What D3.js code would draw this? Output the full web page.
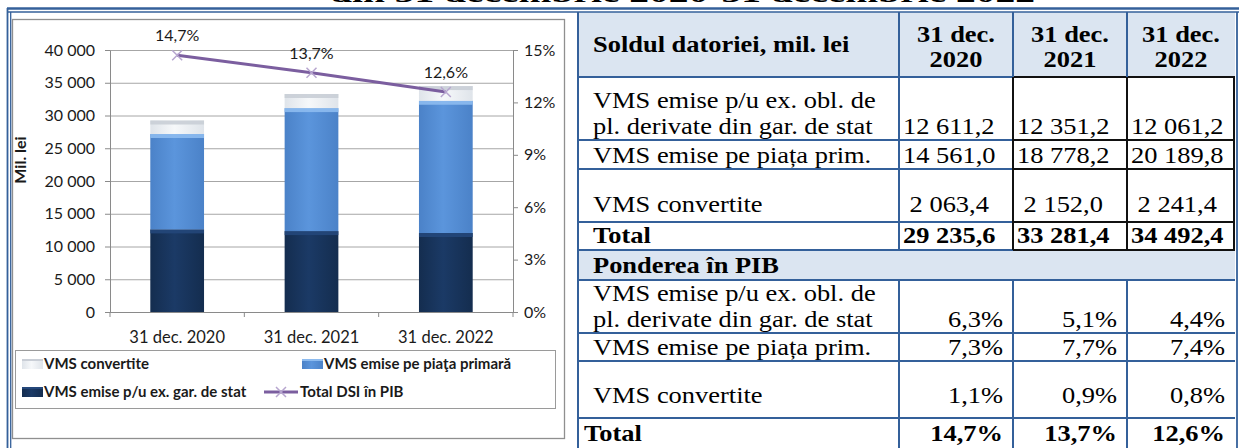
<!DOCTYPE html>
<html>
<head>
<meta charset="utf-8">
<script src="https://cdn.jsdelivr.net/npm/d3@7"></script>
<style>
  body { margin: 0; background: #fff; }
  svg { display: block; }
</style>
</head>
<body>
<svg width="1239" height="448"></svg>
<script>
// ---- data ----
var categories = ["31 dec. 2020", "31 dec. 2021", "31 dec. 2022"];
var garStat = [12611.2, 12351.2, 12061.2];       // VMS emise p/u ex. gar. de stat
var piataPrimara = [14561.0, 18778.2, 20189.8];  // VMS emise pe piata primara
var convertite = [2063.4, 2152.0, 2241.4];       // VMS convertite
var totalPib = [14.7, 13.7, 12.6];               // Total DSI in PIB, %
var leftTicks = [0, 5000, 10000, 15000, 20000, 25000, 30000, 35000, 40000];
var rightTicks = [0, 3, 6, 9, 12, 15];
var seriesNames = ["VMS emise p/u ex. gar. de stat", "VMS emise pe piaţa primară", "VMS convertite", "Total DSI în PIB"];

var titleText = "din 31 decembrie 2020-31 decembrie 2022";
var headLabel = "Soldul datoriei, mil. lei";
var headYears = [["31 dec.", "2020"], ["31 dec.", "2021"], ["31 dec.", "2022"]];
var rowLabels = [["VMS emise p/u ex. obl. de", "pl. derivate din gar. de stat"], ["VMS emise pe piața prim."], ["VMS convertite"], ["Total"]];
var soldValues = [["12 611,2", "12 351,2", "12 061,2"], ["14 561,0", "18 778,2", "20 189,8"], [" 2 063,4", " 2 152,0", " 2 241,4"], ["29 235,6", "33 281,4", "34 492,4"]];
var pibLabel = "Ponderea în PIB";
var pibValues = [["6,3%", "5,1%", "4,4%"], ["7,3%", "7,7%", "7,4%"], ["1,1%", "0,9%", "0,8%"], ["14,7%", "13,7%", "12,6%"]];

var svg = d3.select("svg");
var blue = "#34609a", black = "#111";
var serif = "'Liberation Serif', 'Times New Roman', serif";
var sans = "Lato, 'Open Sans', sans-serif";

var loc = d3.formatLocale({decimal: ",", thousands: " ", grouping: [3], currency: ["", ""]});
var fmtK = loc.format(",d"), fmtP = loc.format(".1f");

// ---- title, cut at the top ----
svg.append("text")
    .attr("x", 330).attr("y", 2)
    .attr("font-family", serif).attr("font-weight", "bold").attr("font-size", 26)
    .attr("textLength", 705).attr("lengthAdjust", "spacingAndGlyphs")
    .text(titleText);

// ---- chart ----
var chart = svg.append("g");
chart.append("rect").attr("x", 12.5).attr("y", 19.5).attr("width", 552).attr("height", 419)
    .attr("fill", "#fff").attr("stroke", "#8f8f8f").attr("stroke-width", 1.3);

var x = d3.scaleBand().domain(categories).range([110, 513]).paddingInner(0.6).paddingOuter(0.3);
var y = d3.scaleLinear().domain([0, 40000]).range([312, 50]);
var y2 = d3.scaleLinear().domain([0, 15]).range([312, 50]);

var defs = svg.append("defs");
function grad(id, edge, mid) {
  var g = defs.append("linearGradient").attr("id", id).attr("x1", 0).attr("x2", 1).attr("y1", 0).attr("y2", 0);
  g.append("stop").attr("offset", "0%").attr("stop-color", edge);
  g.append("stop").attr("offset", "45%").attr("stop-color", mid);
  g.append("stop").attr("offset", "100%").attr("stop-color", edge);
}
grad("gDark", "#142d4f", "#1b3a66");
grad("gMid", "#4b82c8", "#5b95dc");
grad("gLight", "#dfe4ea", "#f6f8fa");

// gridlines
chart.append("g").attr("transform", "translate(110,0)")
    .call(d3.axisLeft(y).tickValues(leftTicks).tickSize(-403).tickFormat(""))
    .call(function(g) { g.select(".domain").remove(); g.selectAll("line").attr("stroke", "#a6a6a6"); });

var data = categories.map(function(c, i) {
  return {cat: c, gar: garStat[i], prim: piataPrimara[i], conv: convertite[i]};
});
var stack = d3.stack().keys(["gar", "prim", "conv"])(data);
var fills = {gar: "url(#gDark)", prim: "url(#gMid)", conv: "url(#gLight)"};
var tops = {gar: "#24477a", prim: "#8dbbef", conv: "#c9ced6"};

stack.forEach(function(s) {
  var grp = chart.append("g");
  grp.selectAll("rect.seg").data(s).enter().append("rect")
      .attr("x", function(d) { return x(d.data.cat); })
      .attr("y", function(d) { return y(d[1]); })
      .attr("width", x.bandwidth())
      .attr("height", function(d) { return y(d[0]) - y(d[1]); })
      .attr("fill", fills[s.key]);
  grp.selectAll("rect.top").data(s).enter().append("rect")
      .attr("x", function(d) { return x(d.data.cat); })
      .attr("y", function(d) { return y(d[1]); })
      .attr("width", x.bandwidth())
      .attr("height", 4)
      .attr("fill", tops[s.key]).attr("opacity", 0.9);
});

// axes
var axL = chart.append("g").attr("transform", "translate(110,0)")
    .call(d3.axisLeft(y).tickValues(leftTicks).tickSize(5).tickSizeOuter(0).tickPadding(10).tickFormat(fmtK));
var axR = chart.append("g").attr("transform", "translate(513,0)")
    .call(d3.axisRight(y2).tickValues(rightTicks).tickSize(5).tickSizeOuter(0).tickPadding(6)
      .tickFormat(function(d) { return d + "%"; }));
var axB = chart.append("g").attr("transform", "translate(0,312)")
    .call(d3.axisBottom(x).tickSize(0).tickSizeOuter(0).tickPadding(19));
[axL, axR, axB].forEach(function(a) {
  a.select(".domain").attr("stroke", "#8a8a8a");
  a.selectAll("line").attr("stroke", "#8a8a8a");
  a.selectAll("text").attr("font-family", sans).attr("font-size", 16).attr("fill", "#1a1a1a");
});
axB.selectAll("text").attr("font-size", 16.5);
// category boundary ticks
chart.append("g").selectAll("line").data(d3.range(categories.length + 1)).enter().append("line")
    .attr("x1", function(i) { return x.range()[0] + i * x.step(); })
    .attr("x2", function(i) { return x.range()[0] + i * x.step(); })
    .attr("y1", 312).attr("y2", 317).attr("stroke", "#8a8a8a");

chart.append("text")
    .attr("transform", "translate(26,160) rotate(-90)")
    .attr("text-anchor", "middle")
    .attr("font-family", sans).attr("font-weight", "bold").attr("font-size", 16).attr("fill", "#1a1a1a")
    .text("Mil. lei");

// line
var cx = function(d, i) { return x(categories[i]) + x.bandwidth() / 2; };
chart.append("path").datum(totalPib)
    .attr("d", d3.line().x(cx).y(function(d) { return y2(d); }))
    .attr("fill", "none").attr("stroke", "#7b5e9f").attr("stroke-width", 3);
chart.selectAll("path.mk").data(totalPib).enter().append("path")
    .attr("d", function(d, i) {
      var px = cx(d, i), py = y2(d), r = 5;
      return "M" + (px - r) + "," + (py - r) + "L" + (px + r) + "," + (py + r) +
             "M" + (px - r) + "," + (py + r) + "L" + (px + r) + "," + (py - r);
    })
    .attr("stroke", "#b7a6cf").attr("stroke-width", 1.5);
chart.selectAll("text.lbl").data(totalPib).enter().append("text")
    .attr("x", cx)
    .attr("y", function(d) { return y2(d) - 14; })
    .attr("text-anchor", "middle")
    .attr("font-family", sans).attr("font-size", 16).attr("fill", "#1a1a1a")
    .text(function(d) { return fmtP(d) + "%"; });

// legend
var lg = chart.append("g");
lg.append("rect").attr("x", 15.5).attr("y", 350.5).attr("width", 540).attr("height", 58)
    .attr("fill", "#fff").attr("stroke", "#9a9a9a");
var legendItems = [
  {name: seriesNames[2], fill: "url(#gLight)", top: tops.conv, lx: 22, ly: 364},
  {name: seriesNames[1], fill: "url(#gMid)", top: tops.prim, lx: 302, ly: 364},
  {name: seriesNames[0], fill: "url(#gDark)", top: tops.gar, lx: 22, ly: 392},
  {name: seriesNames[3], line: true, lx: 264, ly: 392}
];
legendItems.forEach(function(it) {
  if (it.line) {
    lg.append("line").attr("x1", it.lx).attr("x2", it.lx + 34).attr("y1", it.ly).attr("y2", it.ly)
        .attr("stroke", "#7b5e9f").attr("stroke-width", 3);
    var mx = it.lx + 17, r = 5;
    lg.append("path").attr("d", "M" + (mx - r) + "," + (it.ly - r) + "L" + (mx + r) + "," + (it.ly + r) +
        "M" + (mx - r) + "," + (it.ly + r) + "L" + (mx + r) + "," + (it.ly - r))
        .attr("stroke", "#b7a6cf").attr("stroke-width", 1.5);
    lg.append("text").attr("x", it.lx + 36).attr("y", it.ly + 5)
        .attr("font-family", sans).attr("font-weight", "bold").attr("font-size", 15).attr("fill", "#1a1a1a")
        .text(it.name);
  } else {
    lg.append("rect").attr("x", it.lx).attr("y", it.ly - 5).attr("width", 21).attr("height", 10).attr("fill", it.fill);
    lg.append("rect").attr("x", it.lx).attr("y", it.ly - 5).attr("width", 21).attr("height", 2).attr("fill", it.top);
    lg.append("text").attr("x", it.lx + 22).attr("y", it.ly + 5)
        .attr("font-family", sans).attr("font-weight", "bold").attr("font-size", 15).attr("fill", "#1a1a1a")
        .text(it.name);
  }
});

// ---- table ----
var colX = [578, 899, 1013, 1127, 1235];
var rowY = [12, 77, 140, 169, 222, 250, 280, 333, 361, 418, 448];
var tb = svg.append("g");
tb.append("rect").attr("x", colX[0]).attr("y", rowY[0]).attr("width", colX[4] - colX[0]).attr("height", rowY[1] - rowY[0]).attr("fill", "#dbe5f1");
tb.append("rect").attr("x", colX[0]).attr("y", rowY[5]).attr("width", colX[4] - colX[0]).attr("height", rowY[6] - rowY[5]).attr("fill", "#dbe5f1");

function seg(x1, y1, x2, y2, c, w) {
  tb.append("line").attr("x1", x1).attr("y1", y1).attr("x2", x2).attr("y2", y2)
      .attr("stroke", c).attr("stroke-width", w || 2);
}
// horizontal rules, first section
[1, 2, 3, 4, 5].forEach(function(r) {
  seg(colX[0], rowY[r], colX[2], rowY[r], blue);
  seg(colX[2], rowY[r], colX[4], rowY[r], black);
});
// horizontal rules, second section
[6, 7, 8, 9].forEach(function(r) { seg(colX[0], rowY[r], colX[4], rowY[r], blue); });
// verticals
seg(colX[1], rowY[0], colX[1], rowY[5], blue);
seg(colX[2], rowY[0], colX[2], rowY[1], blue);
seg(colX[3], rowY[0], colX[3], rowY[1], blue);
seg(colX[2], rowY[1], colX[2], rowY[5], black);
seg(colX[3], rowY[1], colX[3], rowY[5], black);
seg(colX[4] - 1, rowY[1], colX[4] - 1, rowY[5], black);
[1, 2, 3].forEach(function(c) { seg(colX[c], rowY[6], colX[c], rowY[10], blue); });
seg(colX[0], 12, colX[0], 448, blue);

// table text is a little wider than plain Times in the source picture
var sx = 1.15;
function txt(xp, yp, s, bold, anchor) {
  tb.append("text")
      .attr("transform", "translate(" + xp + "," + yp + ") scale(" + sx + ",1)")
      .attr("font-family", serif).attr("font-size", 23)
      .attr("font-weight", bold ? "bold" : "normal")
      .attr("text-anchor", anchor || "start")
      .attr("fill", "#000").style("white-space", "pre")
      .text(s);
}
// header
txt(593, 52, headLabel, true);
headYears.forEach(function(h, j) {
  var mid = (colX[j + 1] + colX[j + 2]) / 2;
  txt(mid, 42, h[0], true, "middle");
  txt(mid, 67, h[1], true, "middle");
});
// rows: baseline offsets from the row bottom
var baseOff1 = [6, 6, 10, 7], baseOff2 = [6, 6, 15, 7];
rowLabels.forEach(function(lines, r) {
  var bottom1 = rowY[r + 2], bottom2 = rowY[r + 7];
  var bold = lines[0] === "Total";
  lines.forEach(function(s, k) {
    var up = (lines.length - 1 - k) * 26;
    txt(593, bottom1 - baseOff1[r] - up, s, bold);
    txt(bold ? 584 : 593, bottom2 - baseOff2[r] - up, s, bold);
  });
  soldValues[r].forEach(function(v, j) {
    txt(colX[j + 1] + 4, bottom1 - baseOff1[r], v, bold);
  });
  pibValues[r].forEach(function(v, j) {
    txt(colX[j + 2] - 10, bottom2 - baseOff2[r], v, bold, "end");
  });
});
txt(593, 273, pibLabel, true);

// ---- outer double frame ----
seg(7, 8.5, 1239, 8.5, blue, 2.5);
seg(7, 12, 1239, 12, blue, 1.3);
seg(7.5, 8, 7.5, 448, blue, 1.8);
seg(10.7, 12, 10.7, 448, blue, 1.3);
seg(1237, 12, 1237, 448, blue, 1.8);
</script>
</body>
</html>
